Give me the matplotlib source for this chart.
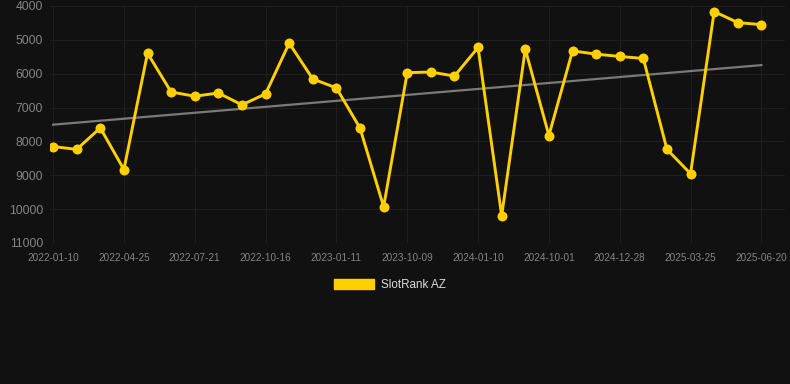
import matplotlib
matplotlib.use("Agg")
import matplotlib.pyplot as plt
from matplotlib.patches import Patch
import numpy as np

# rank values, one per sample (31 samples, every 3rd one labelled)
ranks = [8150, 8235, 7600, 8830, 5395, 6540, 6665, 6570, 6920, 6595,
         5098, 6155, 6420, 7605, 9930, 5970, 5950, 6070, 5225, 10195,
         5275, 7825, 5325, 5422, 5490, 5550, 8235, 8952, 4165, 4490, 4550]
tick_labels = ["2022-01-10", "2022-04-25", "2022-07-21", "2022-10-16", "2023-01-11",
               "2023-10-09", "2024-01-10", "2024-10-01", "2024-12-28", "2025-03-25",
               "2025-06-20"]
y_ticks = [4000, 5000, 6000, 7000, 8000, 9000, 10000, 11000]

bg = "#111111"
yellow = "#FFD000"
plt.rcParams['font.family'] = ['Liberation Sans', 'DejaVu Sans']

fig = plt.figure(figsize=(7.9, 3.84), dpi=100, facecolor=bg)
W, H = 790, 384
ax = fig.add_axes([50 / W, 1 - 243 / H, 735 / W, 237 / H], facecolor=bg)

x = np.arange(len(ranks))
# linear trend
k, b = np.polyfit(x, ranks, 1)
ax.plot(x, k * x + b, color="#7a7a7a", lw=1.6, zorder=2)

ax.plot(x, ranks, color=yellow, lw=2.1, marker="o", markersize=7.2,
        markeredgewidth=0, zorder=3)

ax.set_ylim(11000, 4000)
ax.set_yticks(y_ticks)
ax.set_xlim(-0.13, 31.0)
ax.set_xticks(x[::3])
ax.set_xticklabels(tick_labels)

ax.grid(True, color="#1e1e1e", lw=0.8)
ax.set_axisbelow(True)
for s in ax.spines.values():
    s.set_visible(False)
ax.tick_params(axis="y", length=0, pad=5, labelsize=8.7, labelcolor="#858585")
ax.tick_params(axis="x", length=0, pad=7, labelsize=7.2, labelcolor="#858585")

fig.legend(handles=[Patch(facecolor=yellow, edgecolor=yellow)], labels=["SlotRank AZ"],
           loc="center", bbox_to_anchor=(390 / W, 1 - 285 / H), frameon=False,
           fontsize=8.4, labelcolor="#dddddd", handlelength=3.4, handleheight=1.0,
           handletextpad=0.6)

plt.savefig("out.png", facecolor=bg)
